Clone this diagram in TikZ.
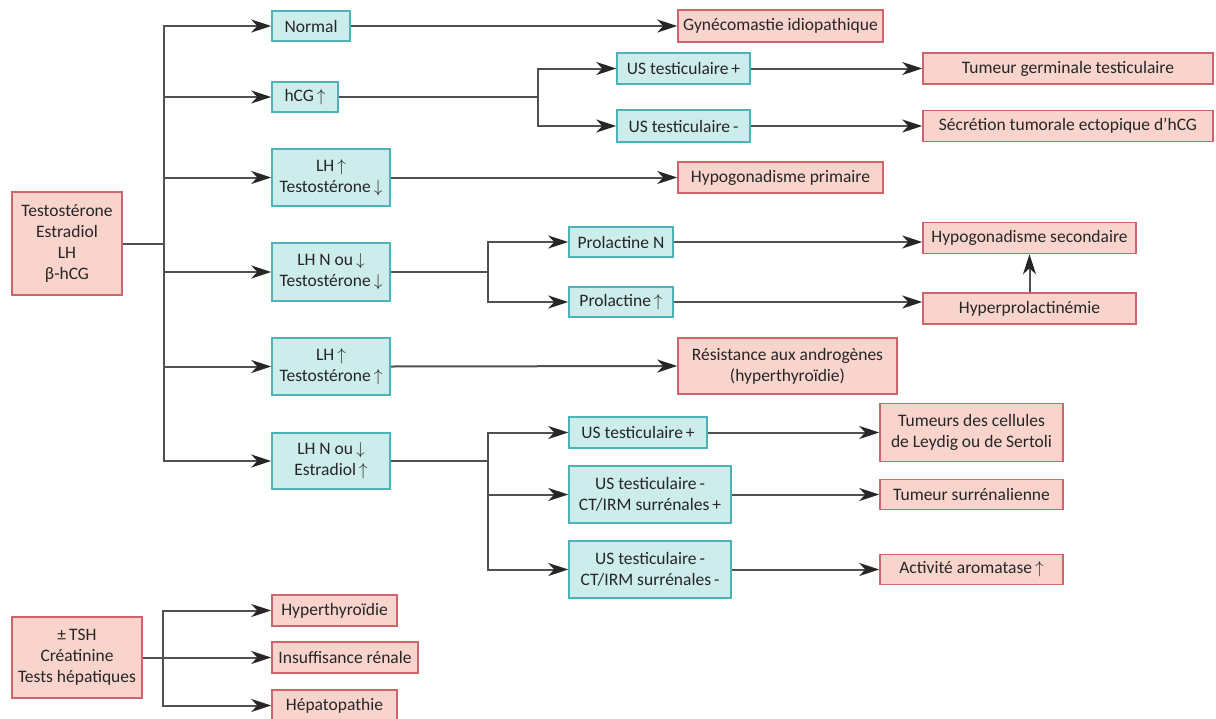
\documentclass[tikz,border=0pt]{standalone}
\usepackage{fontspec}
\setmainfont{Carlito}
\usetikzlibrary{arrows.meta}

\definecolor{bleufond}{HTML}{CDECEC}
\definecolor{bleutrait}{HTML}{4DB3B8}
\definecolor{rosefond}{HTML}{F8D4CC}
\definecolor{rosetrait}{HTML}{D0646C}
\definecolor{trait}{HTML}{505050}

\newcommand{\monte}{\,$\uparrow$}
\newcommand{\baisse}{\,$\downarrow$}

\begin{document}
\begin{tikzpicture}[
    x=1pt, y=-1pt,
    font=\fontsize{17.5}{21}\selectfont,
    boite/.style={
        draw,
        line width=1.5pt,
        inner sep=0pt,
        align=center,
        text=black!85
    },
    testbox/.style={
        boite,
        draw=bleutrait,
        fill=bleufond
    },
    diagbox/.style={
        boite,
        draw=rosetrait,
        fill=rosefond
    },
    ligne/.style={
        draw=trait,
        line width=2pt
    },
    fleche/.style={
        ligne,
        -{Stealth[length=20pt,width=13pt,inset=6pt,color=black!85]}
    }
]
\useasboundingbox (0,0) rectangle (1216,718);

% =====================
% Bilan initial
% =====================
\node[diagbox, minimum width=110, minimum height=103] (bilan) at (67,243.5)
    {Testostérone\\Estradiol\\LH\\β-hCG};
\coordinate (tronc) at (164,243.5);

% =====================
% Premier niveau
% =====================
\node[testbox, minimum width=78,  minimum height=30] (normal) at (311,26) {Normal};
\node[testbox, minimum width=66,  minimum height=30] (hcg)    at (305,97) {hCG\monte};
\node[testbox, minimum width=118, minimum height=57] (lhtd)   at (331,177.5) {LH\monte\\Testostérone\baisse};
\node[testbox, minimum width=118, minimum height=58] (lhnt)   at (331,272) {LH N ou\baisse\\Testostérone\baisse};
\node[testbox, minimum width=118, minimum height=57] (lhtu)   at (331,366.5) {LH\monte\\Testostérone\monte};
\node[testbox, minimum width=118, minimum height=56] (lhne)   at (331,461) {LH N ou\baisse\\Estradiol\monte};

% =====================
% Branche hCG
% =====================
\coordinate (fourche1) at (538,97);
\node[testbox, minimum width=133, minimum height=31] (usp1) at (683.5,68.5) {US testiculaire\,+};
\node[testbox, minimum width=133, minimum height=32] (usm1) at (683.5,126) {US testiculaire\,-};
\node[diagbox, minimum width=290, minimum height=31] (germ) at (1068,68.5) {Tumeur germinale testiculaire};
\node[diagbox, minimum width=290, minimum height=31] (ecto) at (1068,126) {Sécrétion tumorale ectopique d'hCG};

% =====================
% Branche LH N ou basse, testostérone basse
% =====================
\coordinate (fourche2) at (488,272);
\node[testbox, minimum width=104, minimum height=30] (proN) at (621,242) {Prolactine N};
\node[testbox, minimum width=104, minimum height=30] (proU) at (621,302) {Prolactine\monte};
\node[diagbox, minimum width=213, minimum height=31] (hypo2)    at (1029.5,238) {Hypogonadisme secondaire};
\node[diagbox, minimum width=213, minimum height=31] (hyperpro) at (1029.5,308.5) {Hyperprolactinémie};

% =====================
% Diagnostics directs
% =====================
\node[diagbox, minimum width=205, minimum height=32] (gyneco) at (780.5,26) {Gynécomastie idiopathique};
\node[diagbox, minimum width=205, minimum height=31] (hypo1)  at (780.5,177.5) {Hypogonadisme primaire};
\node[diagbox, minimum width=219, minimum height=56] (resist) at (787.5,366) {Résistance aux androgènes\\(hyperthyroïdie)};

% =====================
% Branche estradiol haut
% =====================
\coordinate (fourche3) at (488,461);
\node[testbox, minimum width=138, minimum height=31] (usp2)  at (638,432.5) {US testiculaire\,+};
\node[testbox, minimum width=162, minimum height=57] (usct1) at (650,494.5) {US testiculaire\,-\\CT/IRM surrénales\,+};
\node[testbox, minimum width=162, minimum height=57] (usct2) at (650,569.5) {US testiculaire\,-\\CT/IRM surrénales\,-};
\node[diagbox, minimum width=183, minimum height=58] (leydig) at (971.5,432.5) {Tumeurs des cellules\\de Leydig ou de Sertoli};
\node[diagbox, minimum width=183, minimum height=30] (surren) at (971.5,494.5) {Tumeur surrénalienne};
\node[diagbox, minimum width=183, minimum height=30] (aroma)  at (971.5,569.5) {Activité aromatase\monte};

% =====================
% Autres examens
% =====================
\node[diagbox, minimum width=130, minimum height=81] (autres) at (77,657.5)
    {±\,TSH\\Créatinine\\Tests hépatiques};
\coordinate (tronc2) at (163,657.5);
\node[diagbox, minimum width=125, minimum height=31] (hyperthy) at (334.5,610.5) {Hyperthyroïdie};
\node[diagbox, minimum width=146, minimum height=31] (insuff)   at (345,657.5) {Insuffisance rénale};
\node[diagbox, minimum width=125, minimum height=31] (hepato)   at (334.5,705.5) {Hépatopathie};

% =====================
% Liaisons
% =====================
\draw[ligne]  (bilan.east) -- (tronc);
\draw[fleche] (tronc) |- (normal.west);
\draw[fleche] (tronc) |- (hcg.west);
\draw[fleche] (tronc) |- (lhtd.west);
\draw[fleche] (tronc) |- (lhnt.west);
\draw[fleche] (tronc) |- (lhtu.west);
\draw[fleche] (tronc) |- (lhne.west);

\draw[fleche] (normal.east) -- (gyneco.west);
\draw[fleche] (lhtd.east) -- (hypo1.west);
\draw[fleche] (lhtu.east) -- (resist.west);

\draw[ligne]  (hcg.east) -- (fourche1);
\draw[fleche] (fourche1) |- (usp1.west);
\draw[fleche] (fourche1) |- (usm1.west);
\draw[fleche] (usp1.east) -- (germ.west);
\draw[fleche] (usm1.east) -- (ecto.west);

\draw[ligne]  (lhnt.east) -- (fourche2);
\draw[fleche] (fourche2) |- (proN.west);
\draw[fleche] (fourche2) |- (proU.west);
\draw[fleche] (proN.east) -- (proN.east -| hypo2.west);
\draw[fleche] (proU.east) -- (proU.east -| hyperpro.west);
\draw[fleche] (hyperpro.north) -- (hypo2.south);

\draw[ligne]  (lhne.east) -- (fourche3);
\draw[fleche] (fourche3) |- (usp2.west);
\draw[fleche] (fourche3) |- (usct1.west);
\draw[fleche] (fourche3) |- (usct2.west);
\draw[fleche] (usp2.east) -- (usp2.east -| leydig.west);
\draw[fleche] (usct1.east) -- (surren.west);
\draw[fleche] (usct2.east) -- (aroma.west);

\draw[ligne]  (autres.east) -- (tronc2);
\draw[fleche] (tronc2) |- (hyperthy.west);
\draw[fleche] (tronc2) |- (insuff.west);
\draw[fleche] (tronc2) |- (hepato.west);

\end{tikzpicture}
\end{document}
